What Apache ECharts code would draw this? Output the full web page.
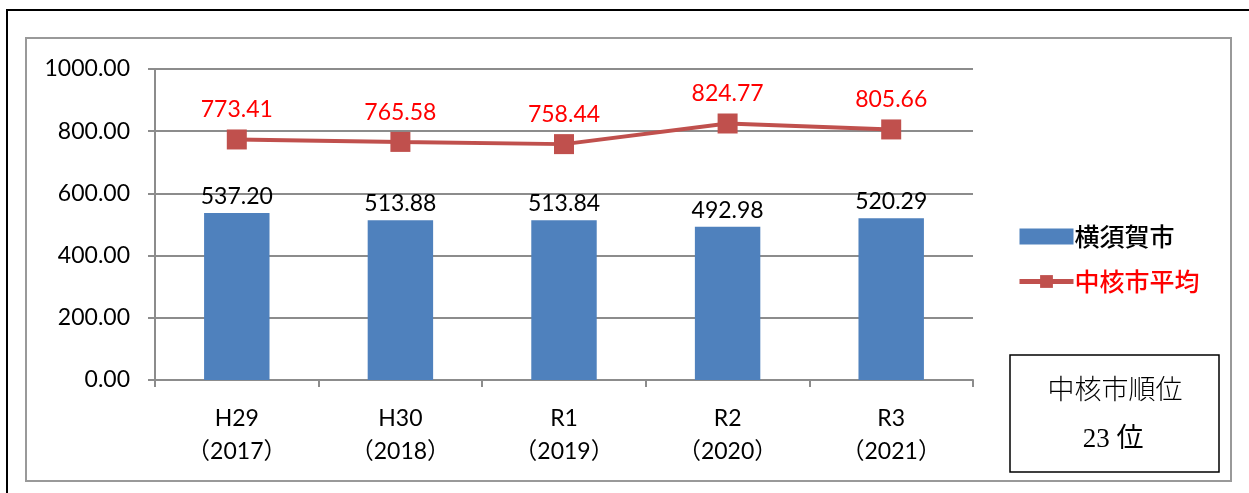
<!DOCTYPE html>
<html>
<head>
<meta charset="utf-8">
<script src="https://cdn.jsdelivr.net/npm/echarts@6/dist/echarts.min.js"></script>
<style>
  html, body { margin: 0; padding: 0; background: #fff; }
  #main { width: 1249px; height: 493px; }
</style>
</head>
<body>
<div id="main"></div>
<script>
// 年度（和暦＋西暦）
var categories = ['H29\n（2017）', 'H30\n（2018）', 'R1\n（2019）', 'R2\n（2020）', 'R3\n（2021）'];
// 横須賀市
var yokosukaValues = [537.20, 513.88, 513.84, 492.98, 520.29];
// 中核市平均
var averageValues = [773.41, 765.58, 758.44, 824.77, 805.66];
var rankLines = ['中核市順位', '23 位'];

var numFont = 'Lato, "Noto Sans CJK JP", sans-serif';
var jpFont = '"Noto Sans CJK JP", sans-serif';
var serifFont = '"Liberation Serif", "DejaVu Serif", "Noto Sans CJK JP", serif';

var chart = echarts.init(document.getElementById('main'));
chart.setOption({
    animation: false,
    backgroundColor: '#fff',
    grid: { left: 155, right: 276, top: 69, bottom: 113 },
    legend: {
        orient: 'vertical',
        left: 1012,
        top: 219,
        itemGap: 20,
        itemWidth: 54,
        itemHeight: 16,
        textStyle: { fontFamily: jpFont, fontSize: 25, fontWeight: 500, color: '#000', padding: [0, 0, 0, -4] },
        data: [
            { name: '横須賀市', icon: 'rect', itemStyle: { color: '#4F81BD' } },
            { name: '中核市平均', textStyle: { color: '#FF0000' },
              lineStyle: { width: 5, color: '#C0504D' } }
        ]
    },
    xAxis: {
        type: 'category',
        data: categories,
        boundaryGap: true,
        axisLine: { lineStyle: { color: '#8c8c8c', width: 2 } },
        axisTick: { show: true, length: 7, lineStyle: { color: '#8c8c8c', width: 2 } },
        axisLabel: {
            color: '#000', fontFamily: numFont, fontSize: 23, margin: 22, lineHeight: 33
        }
    },
    yAxis: {
        type: 'value',
        min: 0,
        max: 1000,
        interval: 200,
        axisLine: { show: true, lineStyle: { color: '#8c8c8c', width: 2 } },
        axisTick: { show: true, length: 7, lineStyle: { color: '#8c8c8c', width: 2 } },
        splitLine: { lineStyle: { color: '#8c8c8c', width: 2 } },
        axisLabel: {
            color: '#000', fontFamily: numFont, fontSize: 23, margin: 25,
            formatter: function (v) { return v.toFixed(2); }
        }
    },
    series: [
        {
            name: '横須賀市',
            type: 'bar',
            data: yokosukaValues,
            barWidth: '40%',
            itemStyle: { color: '#4F81BD' },
            label: {
                show: true, position: 'top', distance: 5,
                color: '#000', fontFamily: numFont, fontSize: 23,
                formatter: function (p) { return p.value.toFixed(2); }
            }
        },
        {
            name: '中核市平均',
            type: 'line',
            data: averageValues,
            symbol: 'rect',
            symbolSize: 20,
            itemStyle: { color: '#C0504D' },
            lineStyle: { color: '#C0504D', width: 4 },
            label: {
                show: true, position: 'top', distance: 8,
                color: '#FF0000', fontFamily: numFont, fontSize: 23,
                formatter: function (p) { return p.value.toFixed(2); }
            }
        }
    ],
    graphic: [
        // 外枠（黒）
        { type: 'rect', silent: true, shape: { x: 7, y: 10, width: 1260, height: 500 },
          style: { fill: null, stroke: '#000', lineWidth: 2 } },
        // グラフ枠（灰）
        { type: 'rect', silent: true, shape: { x: 26, y: 38, width: 1205, height: 443 },
          style: { fill: null, stroke: '#999', lineWidth: 2 } },
        // 順位ボックス
        { type: 'rect', silent: true, shape: { x: 1010, y: 355, width: 209, height: 117 },
          style: { fill: '#fff', stroke: '#000', lineWidth: 1.5 } },
        { type: 'text', silent: true, x: 1115, y: 392,
          style: { text: rankLines[0], align: 'center', verticalAlign: 'middle',
                   fontFamily: serifFont, fontSize: 27, fontWeight: 300, fill: '#000' } },
        { type: 'text', silent: true, x: 1113, y: 440,
          style: { text: rankLines[1], align: 'center', verticalAlign: 'middle',
                   fontFamily: serifFont, fontSize: 27, fontWeight: 'normal', fill: '#000' } }
    ]
});
</script>
</body>
</html>
